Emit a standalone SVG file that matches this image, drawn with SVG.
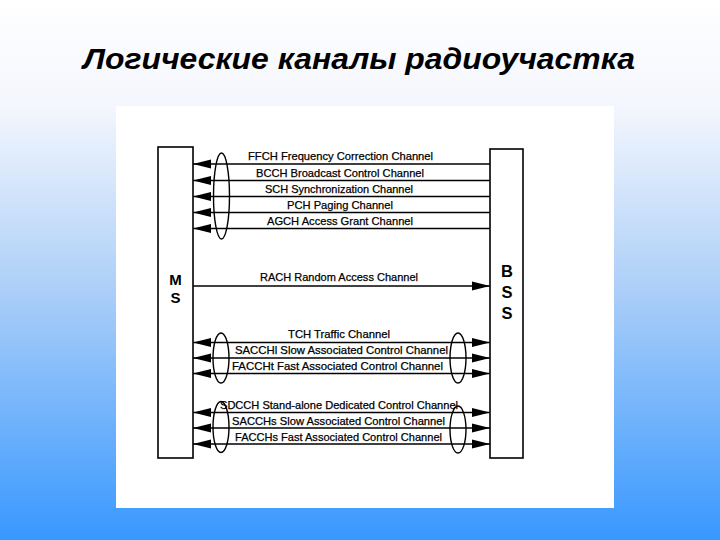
<svg xmlns="http://www.w3.org/2000/svg" width="720" height="540" viewBox="0 0 720 540">
<defs>
<linearGradient id="bg" x1="0" y1="0" x2="0" y2="1">
<stop offset="0" stop-color="#ffffff"/>
<stop offset="0.2" stop-color="#f3f6fd"/>
<stop offset="0.55" stop-color="#a9cdf8"/>
<stop offset="1" stop-color="#3898ff"/>
</linearGradient>
<marker id="ah" viewBox="0 0 18 10" refX="18" refY="5" markerWidth="18" markerHeight="10" markerUnits="userSpaceOnUse" orient="auto-start-reverse">
<path d="M0,0.5 L18,5 L0,9.5 Z" fill="#000"/>
</marker>
<style>
.lbl{font-family:"Liberation Sans",Arial,sans-serif;font-size:11.5px;fill:#000;stroke:#000;stroke-width:0.25}
.big{font-family:"Liberation Sans",Arial,sans-serif;font-weight:bold;fill:#000;text-anchor:middle}
.box{fill:#fff;stroke:#000;stroke-width:1.6}
.ln{stroke:#000;stroke-width:1.4;fill:none}
.ell{stroke:#000;stroke-width:1.4;fill:none}
</style>
</defs>
<rect x="0" y="0" width="720" height="540" fill="url(#bg)"/>
<text x="359" y="69" font-family="'Liberation Sans',Arial,sans-serif" font-size="30" font-weight="bold" font-style="italic" text-anchor="middle" textLength="552" lengthAdjust="spacingAndGlyphs">Логические каналы радиоучастка</text>
<rect x="116" y="106" width="498" height="402" fill="#fff"/>

<g id="MS">
<rect class="box" x="158" y="147" width="35" height="311"/>
<text class="big" x="175.5" y="285" font-size="15">M</text>
<text class="big" x="175.5" y="303" font-size="15">S</text>
</g>
<g id="BSS">
<rect class="box" x="490" y="149" width="33" height="309"/>
<text class="big" x="507" y="277" font-size="16.5">B</text>
<text class="big" x="507" y="298" font-size="16.5">S</text>
<text class="big" x="507" y="319" font-size="16.5">S</text>
</g>

<g id="connectors">
<line class="ln" x1="490" y1="164" x2="193" y2="164" marker-end="url(#ah)"/>
<line class="ln" x1="490" y1="180.5" x2="193" y2="180.5" marker-end="url(#ah)"/>
<line class="ln" x1="490" y1="196.5" x2="193" y2="196.5" marker-end="url(#ah)"/>
<line class="ln" x1="490" y1="212.5" x2="193" y2="212.5" marker-end="url(#ah)"/>
<line class="ln" x1="490" y1="228.5" x2="193" y2="228.5" marker-end="url(#ah)"/>
<ellipse class="ell" cx="221.5" cy="196" rx="8" ry="43"/>

<line class="ln" x1="193" y1="286" x2="490" y2="286" marker-end="url(#ah)"/>

<line class="ln" x1="193" y1="342.5" x2="490" y2="342.5" marker-start="url(#ah)" marker-end="url(#ah)"/>
<line class="ln" x1="193" y1="358" x2="490" y2="358" marker-start="url(#ah)" marker-end="url(#ah)"/>
<line class="ln" x1="193" y1="373.5" x2="490" y2="373.5" marker-start="url(#ah)" marker-end="url(#ah)"/>
<ellipse class="ell" cx="221" cy="358" rx="8" ry="25"/>
<ellipse class="ell" cx="458" cy="358" rx="8" ry="25"/>

<line class="ln" x1="193" y1="412.5" x2="490" y2="412.5" marker-start="url(#ah)" marker-end="url(#ah)"/>
<line class="ln" x1="193" y1="428" x2="490" y2="428" marker-start="url(#ah)" marker-end="url(#ah)"/>
<line class="ln" x1="193" y1="444" x2="490" y2="444" marker-start="url(#ah)" marker-end="url(#ah)"/>
<ellipse class="ell" cx="221" cy="427" rx="8" ry="25.5"/>
<ellipse class="ell" cx="458" cy="429.5" rx="8" ry="23.5"/>
</g>

<g id="labels">
<text class="lbl" x="248" y="160" textLength="185" lengthAdjust="spacingAndGlyphs">FFCH Frequency Correction Channel</text>
<text class="lbl" x="256" y="176.5" textLength="168" lengthAdjust="spacingAndGlyphs">BCCH Broadcast Control Channel</text>
<text class="lbl" x="265" y="192.5" textLength="148" lengthAdjust="spacingAndGlyphs">SCH Synchronization Channel</text>
<text class="lbl" x="287" y="208.5" textLength="106" lengthAdjust="spacingAndGlyphs">PCH Paging Channel</text>
<text class="lbl" x="267" y="224.5" textLength="146" lengthAdjust="spacingAndGlyphs">AGCH Access Grant Channel</text>
<text class="lbl" x="260" y="281" textLength="158" lengthAdjust="spacingAndGlyphs">RACH Random Access Channel</text>
<text class="lbl" x="288" y="337.5" textLength="102" lengthAdjust="spacingAndGlyphs">TCH Traffic Channel</text>
<text class="lbl" x="235" y="353.5" textLength="213" lengthAdjust="spacingAndGlyphs">SACCHl Slow Associated Control Channel</text>
<text class="lbl" x="232" y="369.5" textLength="211" lengthAdjust="spacingAndGlyphs">FACCHt Fast Associated Control Channel</text>
<text class="lbl" x="220" y="409" textLength="238" lengthAdjust="spacingAndGlyphs">SDCCH Stand-alone Dedicated Control Channel</text>
<text class="lbl" x="232" y="425" textLength="213" lengthAdjust="spacingAndGlyphs">SACCHs Slow Associated Control Channel</text>
<text class="lbl" x="235" y="440.5" textLength="207" lengthAdjust="spacingAndGlyphs">FACCHs Fast Associated Control Channel</text>
</g>
</svg>
